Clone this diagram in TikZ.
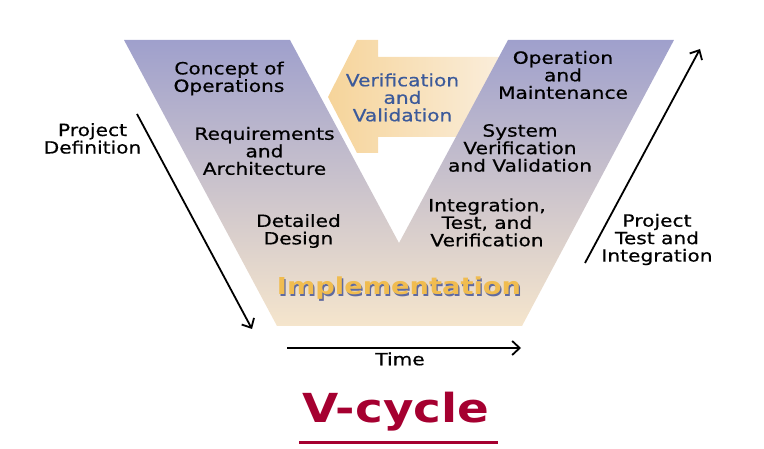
\documentclass[tikz,border=0pt]{standalone}
\usepackage{fontspec}
\usetikzlibrary{arrows.meta}
\newfontfamily\vfont[FakeStretch=1.2,FakeBold=0.6]{DejaVu Sans}
\newfontfamily\vbfont[FakeStretch=1.17]{DejaVu Sans}
\definecolor{vtop}{HTML}{9FA0CC}
\definecolor{vbot}{HTML}{F5E5CC}
\definecolor{arrL}{HTML}{F6D49A}
\definecolor{arrR}{HTML}{FBF2E6}
\definecolor{vvblue}{HTML}{3C5A9A}
\definecolor{implor}{HTML}{F0BC50}
\definecolor{implsh}{HTML}{5F6AA0}
\definecolor{vred}{HTML}{A50030}
\tikzset{
  lbl/.style={align=center, inner sep=0pt, font=\vfont\fontsize{16.8}{17.5}\selectfont},
  conn/.style={line width=1.8pt, -{Straight Barb[length=7.5pt,width=14pt,line width=1.8pt]}},
}
\begin{document}
\begin{tikzpicture}[x=1pt,y=-1pt]
\useasboundingbox (0,0) rectangle (764,449);
% verification arrow (behind V)
\shade[left color=arrL, right color=arrR]
  (328,97) -- (357,40) -- (378,40) -- (378,57) -- (530,57) -- (530,137)
  -- (378,137) -- (378,153) -- (357,153) -- cycle;
% V shape
\shade[top color=vtop, bottom color=vbot]
  (124,40) -- (290,40) -- (399,243) -- (508,40) -- (674,40)
  -- (522,326) -- (277,326) -- cycle;
% labels
\node[lbl] (conops) at (229,78.5) {Concept of\\Operations};
\node[lbl] (req) at (264.5,151) {Requirements\\and\\Architecture};
\node[lbl] (dd) at (298.5,231) {Detailed\\Design};
\node[lbl, text=vvblue] (vv) at (402.5,97.5) {Verification\\and\\Validation};
\node[lbl] (om) at (563,75) {Operation\\and\\Maintenance};
\node[lbl] (svv) at (520,148) {System\\Verification\\and Validation};
\node[lbl] (itv) at (487,222.5) {Integration,\\Test, and\\Verification};
\node[lbl] (pd) at (92.5,138.5) {Project\\Definition};
\node[lbl] (pti) at (657,239.5) {Project\\Test and\\Integration};
\node[lbl] (time) at (400,359) {Time};
% Implementation with shadow
\node[anchor=base, inner sep=0pt, text=implsh, font=\vbfont\bfseries\fontsize{23.3}{23}\selectfont] (implsh) at (400.3,296.3) {Implementation};
\node[anchor=base, inner sep=0pt, text=implor, font=\vbfont\bfseries\fontsize{23.3}{23}\selectfont] (impl) at (399,295) {Implementation};
% arrows
\coordinate (pdA) at (137,114);
\coordinate (pdB) at (252,329);
\coordinate (ptA) at (585,263);
\coordinate (ptB) at (700,49);
\coordinate (tA) at (287,348);
\coordinate (tB) at (521,348);
\draw[conn] (pdA) -- (pdB);
\draw[conn] (ptA) -- (ptB);
\draw[conn] (tA) -- (tB);
% title
\node[anchor=base, inner sep=0pt, text=vred, font=\vbfont\bfseries\fontsize{40}{40}\selectfont] (title) at (396,422) {V-cycle};
\coordinate (ulA) at (299,442);
\coordinate (ulB) at (498,442);
\draw[vred, line width=3pt] (ulA) -- (ulB);
\end{tikzpicture}
\end{document}
